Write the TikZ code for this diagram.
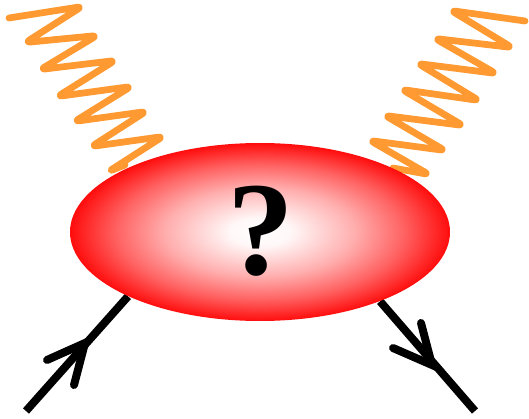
\documentclass[tikz,border=0pt]{standalone}
\usepackage{fontspec}
\usepackage{tikz}
\usetikzlibrary{shapes.geometric, backgrounds}
\newfontfamily\markfont{Liberation Serif}
\definecolor{cPhoton}{HTML}{FF9A33}
\definecolor{cBlob}{HTML}{FF0000}
\pgfdeclareradialshading{blobshade}{\pgfpoint{0bp}{0bp}}{%
    color(0bp)=(white); color(4bp)=(white!97!cBlob); color(12.5bp)=(white!68!cBlob);
    color(19bp)=(white!38!cBlob); color(25bp)=(white!5!cBlob); color(27bp)=(cBlob); color(50bp)=(cBlob)}
\tikzset{
    x=1cm, y=1cm,
    blob/.style={ellipse, shading=blobshade, minimum width=7.6cm, minimum height=3.56cm,
                 inner sep=0pt, font=\fontsize{76}{76}\markfont\bfseries},
    photon/.style={draw=cPhoton, line width=0.135cm, rounded corners=0.1cm,
                   line cap=round, line join=round},
    fermion/.style={draw=black, line width=0.16cm},
    barb/.style={draw=black, line width=0.16cm, line cap=round, line join=miter},
}
\begin{document}
\begin{tikzpicture}
    \useasboundingbox (0,0) rectangle (10.58,8.36);

    \node[blob] (blob) at (5.2,3.72) {\raisebox{0.05cm}{\hspace{0.03cm}?}};

    % free ends of the fermion lines
    \coordinate (inL) at (0.52,0.14);
    \coordinate (apexL) at (1.70,1.50);
    \coordinate (outR) at (9.50,0.14);
    \coordinate (apexR) at (8.64,1.06);

    \begin{scope}[on background layer]
        \draw[photon] (0.18,8.00) -- (1.64,8.23) -- (0.51,7.51) -- (1.94,7.65)
            -- (0.81,6.97) -- (2.30,7.15) -- (1.15,6.43) -- (2.62,6.63)
            -- (1.49,5.93) -- (2.92,6.13) -- (1.83,5.43) -- (3.26,5.63)
            -- (2.17,4.93) -- (2.50,5.06);
        \draw[photon] (10.50,7.94) -- (9.02,8.15) -- (10.24,7.41) -- (8.70,7.59)
            -- (9.92,6.89) -- (8.36,7.09) -- (9.58,6.35) -- (8.04,6.57)
            -- (9.26,5.85) -- (7.70,6.05) -- (8.90,5.35) -- (7.40,5.55)
            -- (8.58,4.87) -- (7.86,5.00);

        \draw[fermion] (inL) -- (blob.-154);
        \draw[fermion] (blob.-30) -- (outR);
    \end{scope}

    \draw[barb] (0.94,1.16) -- (apexL) -- (1.48,0.66);
    \draw[barb] (7.86,1.40) -- (apexR) -- (8.42,1.90);
\end{tikzpicture}
\end{document}
